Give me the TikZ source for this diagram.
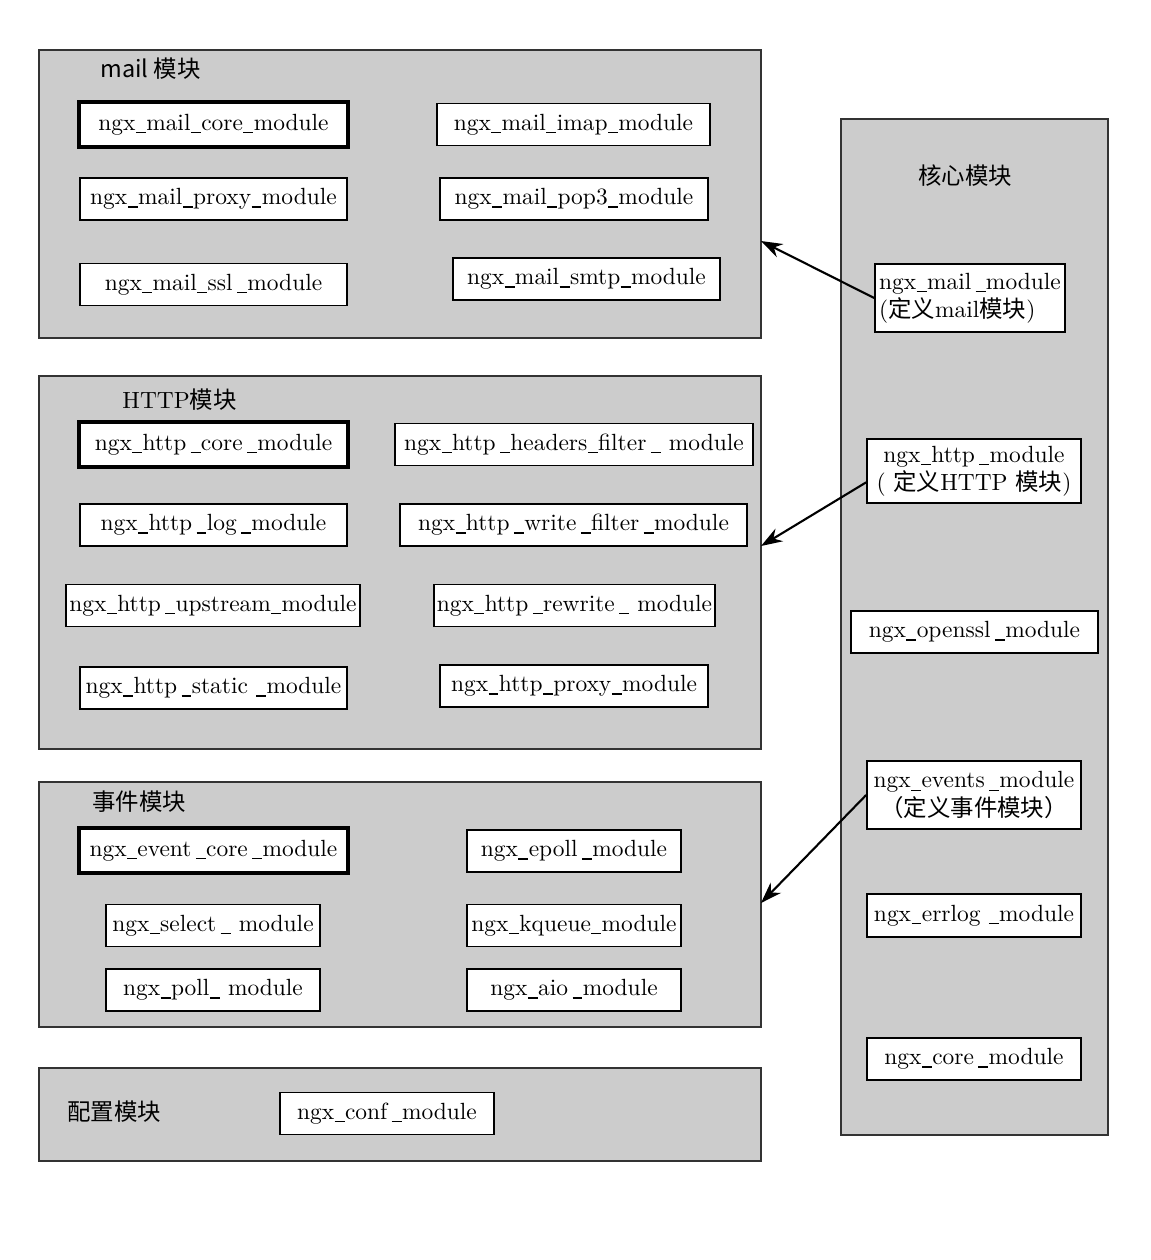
\documentclass[tikz,border=0pt]{standalone}
\usepackage{fontspec}
\newfontfamily\cjk{Noto Sans CJK SC}
\usetikzlibrary{arrows.meta}
\newcommand{\zh}[1]{{\cjk #1}}
\newcommand{\us}{\kern0.02em\rule[-0.12em]{0.42em}{0.05em}\kern0.02em}
\tikzset{
  grpbox/.style={draw=black!80, fill=black!20, line width=0.7pt},
  modbox/.style={draw, fill=white, line width=0.7pt, inner xsep=1pt, inner ysep=1pt,
    minimum width=4cm, minimum height=0.63cm},
  keymod/.style={modbox, line width=1.8pt},
  grplabel/.style={anchor=west, inner sep=0pt},
  link/.style={-{Stealth[length=3.2mm,width=2.2mm]}, line width=0.9pt}
}

\begin{document}
\begin{tikzpicture}[x=0.015cm,y=-0.015cm]
  \useasboundingbox[fill=white] (0,0) rectangle (1150,1260);
  % module groups
  \node[grpbox, minimum width=10.83cm, minimum height=4.32cm] (mailgrp) at (400,194) {};
  \node[grpbox, minimum width=10.83cm, minimum height=5.595cm] (httpgrp) at (400,562.5) {};
  \node[grpbox, minimum width=10.83cm, minimum height=3.675cm] (eventgrp) at (400,904.5) {};
  \node[grpbox, minimum width=10.83cm, minimum height=1.395cm] (confgrp) at (400,1114.5) {};
  \node[grpbox, minimum width=4.005cm, minimum height=15.24cm] (coregrp) at (974.5,627) {};
  \node[grplabel] (maillbl) at (100,69) {\zh{mail 模块}};
  \node[grplabel] (httplbl) at (122,400) {HTTP\zh{模块}};
  \node[grplabel] (eventlbl) at (92,802) {\zh{事件模块}};
  \node[grplabel] (conflbl) at (67,1112) {\zh{配置模块}};
  \node[grplabel] (corelbl) at (918,176) {\zh{核心模块}};

  % mail
  \node[keymod, minimum width=4.035cm, minimum height=0.675cm] (mailcore) at (213.5,124.5) {ngx\us mail\us core\us module};
  \node[modbox] (mailproxy) at (213.5,199) {ngx\us mail\us proxy\us module};
  \node[modbox] (mailssl) at (213.5,284.5) {ngx\us mail\us ssl\,\us module};
  \node[modbox, minimum width=4.1cm] (mailimap) at (573.5,124.5) {ngx\us mail\us imap\us module};
  \node[modbox, minimum width=4.02cm] (mailpop) at (574,199) {ngx\us mail\us pop3\us module};
  \node[modbox] (mailsmtp) at (586.5,279) {ngx\us mail\us smtp\us module};

  % http
  \node[keymod, minimum width=4.035cm, minimum height=0.675cm] (httpcore) at (213.5,444.5) {ngx\us http\,\us core\,\us module};
  \node[modbox] (httplog) at (213.5,525) {ngx\us http\,\us log\,\us module};
  \node[modbox, minimum width=4.41cm] (httpup) at (213,605.5) {ngx\us http\,\us upstream\us module};
  \node[modbox] (httpstatic) at (213.5,688) {ngx\us http\,\us static\ \us module};
  \node[modbox, minimum width=5.37cm] (httphead) at (574,444.5) {ngx\us http\,\us headers\us filter\,\us\ module};
  \node[modbox, minimum width=5.205cm] (httpwrite) at (573.5,525) {ngx\us http\,\us write\,\us filter\,\us module};
  \node[modbox, minimum width=4.215cm] (httprewrite) at (574.5,605.5) {ngx\us http\,\us rewrite\,\us\ module};
  \node[modbox, minimum width=4.02cm] (httpproxy) at (574,686) {ngx\us http\us proxy\us module};

  % events
  \node[keymod, minimum width=4.035cm, minimum height=0.675cm] (eventcore) at (213.5,850.5) {ngx\us event\,\us core\,\us module};
  \node[modbox, minimum width=3.21cm] (evselect) at (213,925.5) {ngx\us select\,\us\ module};
  \node[modbox, minimum width=3.21cm] (evpoll) at (213,990) {ngx\us poll\us\ module};
  \node[modbox, minimum width=3.21cm] (evepoll) at (574,851) {ngx\us epoll\,\us module};
  \node[modbox, minimum width=3.21cm] (evkqueue) at (574,925.5) {ngx\us kqueue\us module};
  \node[modbox, minimum width=3.21cm] (evaio) at (574,990) {ngx\us aio\,\us module};

  % conf
  \node[modbox, minimum width=3.21cm] (conf) at (387,1113.5) {ngx\us conf\,\us module};

  % core
  \node[modbox, minimum width=2.85cm, minimum height=1.02cm, align=left] (mailmod) at (970,298) {ngx\us mail\,\us module\\(\zh{定义}mail\zh{模块})};
  \node[modbox, minimum width=3.21cm, minimum height=0.96cm, align=center] (httpmod) at (974,471) {ngx\us http\,\us module\\( \zh{定义}HTTP \zh{模块})};
  \node[modbox, minimum width=3.705cm] (openssl) at (974.5,632) {ngx\us openssl\,\us module};
  \node[modbox, minimum width=3.21cm, minimum height=1.02cm, align=center] (eventsmod) at (974,795) {ngx\us events\,\us module\\\zh{（定义事件模块）}};
  \node[modbox, minimum width=3.21cm, minimum height=0.645cm] (errlog) at (974,915.5) {ngx\us errlog\ \us module};
  \node[modbox, minimum width=3.21cm] (coremod) at (974,1059) {ngx\us core\,\us module};

  % links
  \coordinate (mailin) at (761,241);
  \coordinate (httpin) at (761,546);
  \coordinate (eventin) at (761,903);
  \draw[link] (mailmod.west) -- (mailin);
  \draw[link] (httpmod.186) -- (httpin);
  \draw[link] (eventsmod.west) -- (eventin);
\end{tikzpicture}
\end{document}
